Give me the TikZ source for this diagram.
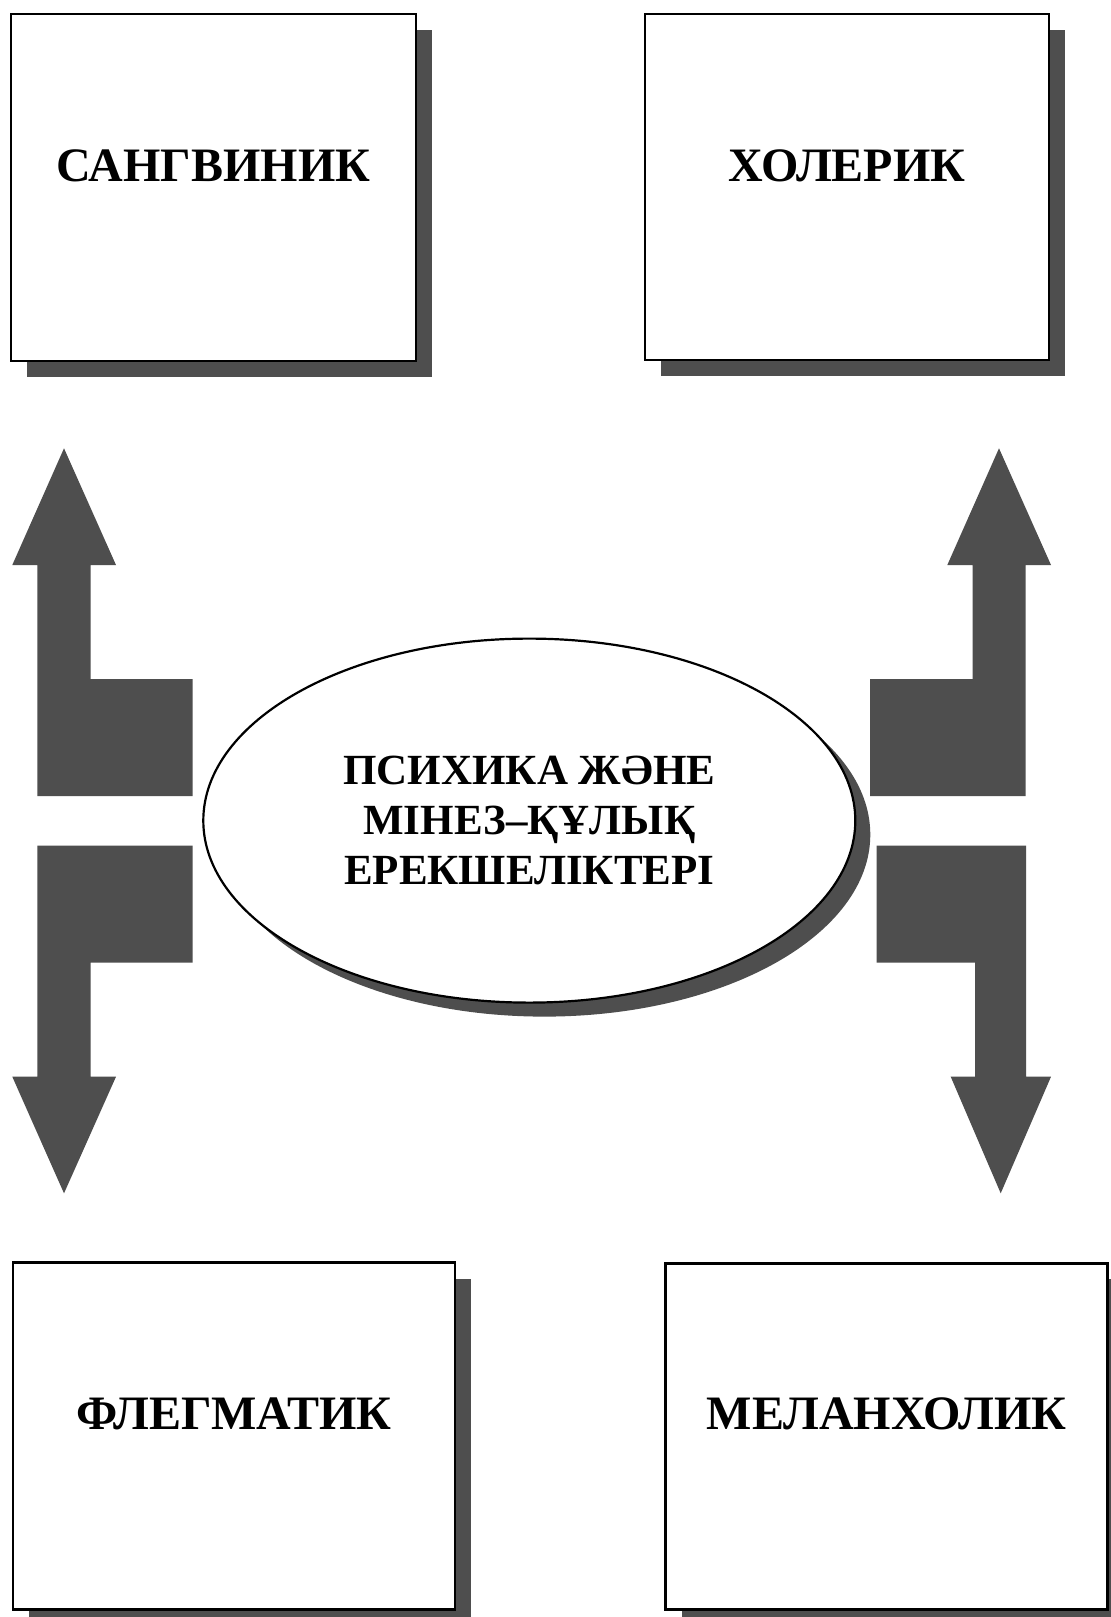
\documentclass[tikz,border=0pt]{standalone}
\usepackage{fontspec}
\setmainfont{Liberation Serif}
\usetikzlibrary{shapes.geometric,shadows}
\definecolor{shadowgray}{RGB}{78,78,78}
\begin{document}
\begin{tikzpicture}[x=1pt,y=-1pt,
  boxshadow/.style={drop shadow={shadow xshift=16pt,shadow yshift=-16pt,fill=shadowgray,opacity=1}},
  typebox/.style={draw=black,line width=2.5pt,fill=white,rectangle,inner sep=0pt,boxshadow},
  typelabel/.style={font=\fontsize{48}{58}\selectfont\bfseries,anchor=base,inner sep=0pt},
  bigarrow/.style={fill=shadowgray,draw=none}]
\useasboundingbox (0,0) rectangle (1111,1617);
\fill[white] (0,0) rectangle (1111,1617);
% boxes
\node[typebox,minimum width=404.7pt,minimum height=346.7pt] (sang) at (213.4,187.4) {};
\node[typebox,minimum width=404pt,minimum height=346pt] (hol) at (847,187) {};
\node[typebox,minimum width=442.3pt,minimum height=346.6pt] (fleg) at (233.9,1436) {};
\node[typebox,minimum width=441.6pt,minimum height=346pt] (mel) at (886.5,1436.3) {};
\node[typelabel] (sangt) at (213.4,181) {САНГВИНИК};
\node[typelabel] (holt) at (847,181) {ХОЛЕРИК};
\node[typelabel] (flegt) at (233.9,1429) {ФЛЕГМАТИК};
\node[typelabel] (melt) at (886.5,1429) {МЕЛАНХОЛИК};
% centre ellipse
\node[ellipse,draw=black,line width=2.2pt,fill=white,inner sep=0pt,
      minimum width=652pt,minimum height=364pt,
      drop shadow={shadow xshift=15pt,shadow yshift=-14pt,fill=shadowgray,opacity=1},
      align=center,font=\fontsize{43}{50}\selectfont\bfseries] (centre) at (529.3,820.6)
  {ПСИХИКА ЖӘНЕ\\МІНЕЗ–ҚҰЛЫҚ\\ЕРЕКШЕЛІКТЕРІ};
% arrows
\fill[bigarrow] (64,448.3) -- (116,565) -- (90.7,565) -- (90.7,679) -- (192.7,679) -- (192.7,796) -- (37.3,796) -- (37.3,565) -- (12.3,565) -- cycle;
\fill[bigarrow] (37.3,845.7) -- (192.7,845.7) -- (192.7,962.7) -- (90.7,962.7) -- (90.7,1076.7) -- (116,1076.7) -- (64,1193.3) -- (12.3,1076.7) -- (37.3,1076.7) -- cycle;
\fill[bigarrow] (999,448.3) -- (1051,565) -- (1025.7,565) -- (1025.7,796) -- (870,796) -- (870,679) -- (972.7,679) -- (972.7,565) -- (947.3,565) -- cycle;
\fill[bigarrow] (876.7,845.7) -- (1026,845.7) -- (1026,1076.7) -- (1051,1076.7) -- (1000.7,1193.3) -- (950.7,1076.7) -- (975,1076.7) -- (975,962.7) -- (876.7,962.7) -- cycle;
\end{tikzpicture}
\end{document}
